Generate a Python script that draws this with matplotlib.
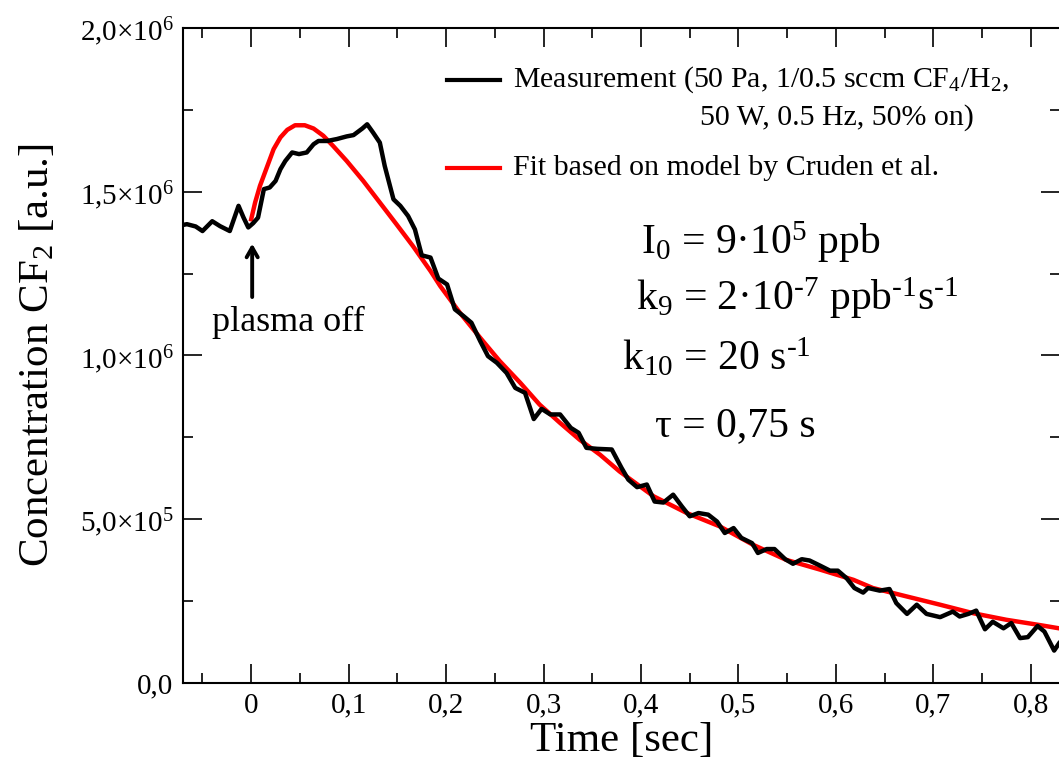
import matplotlib
matplotlib.use("Agg")
import matplotlib.pyplot as plt
from matplotlib.ticker import MultipleLocator, FuncFormatter

plt.rcParams['font.family'] = ['Liberation Serif', 'DejaVu Serif']
plt.rcParams['mathtext.fontset'] = 'custom'
plt.rcParams['mathtext.rm'] = 'Liberation Serif'
plt.rcParams['mathtext.it'] = 'Liberation Serif:italic'

# measurement (time in s, concentration in 1e6 a.u.)
t_meas = [-0.071, -0.066, -0.057, -0.050, -0.040, -0.032, -0.022, -0.013, -0.008, -0.003,
          0.002, 0.007, 0.013, 0.019, 0.025, 0.030, 0.035, 0.042, 0.049, 0.057,
          0.064, 0.069, 0.078, 0.088, 0.098, 0.105, 0.114, 0.119, 0.125, 0.132,
          0.137, 0.146, 0.153, 0.161, 0.168, 0.175, 0.184, 0.192, 0.201, 0.209,
          0.218, 0.226, 0.235, 0.243, 0.252, 0.262, 0.271, 0.281, 0.290, 0.298,
          0.307, 0.317, 0.328, 0.336, 0.344, 0.355, 0.370, 0.380, 0.387, 0.396,
          0.406, 0.414, 0.423, 0.433, 0.442, 0.450, 0.459, 0.469, 0.478, 0.486,
          0.495, 0.503, 0.514, 0.520, 0.529, 0.537, 0.548, 0.556, 0.565, 0.573,
          0.584, 0.594, 0.602, 0.611, 0.619, 0.628, 0.633, 0.645, 0.655, 0.662,
          0.673, 0.683, 0.693, 0.707, 0.720, 0.727, 0.736, 0.744, 0.753, 0.761,
          0.772, 0.780, 0.789, 0.797, 0.807, 0.814, 0.824, 0.829]
c_meas = [1.398, 1.401, 1.394, 1.380, 1.410, 1.395, 1.380, 1.457, 1.422, 1.391,
          1.404, 1.421, 1.508, 1.513, 1.533, 1.569, 1.594, 1.620, 1.615, 1.620,
          1.645, 1.655, 1.655, 1.661, 1.669, 1.673, 1.693, 1.706, 1.681, 1.650,
          1.579, 1.477, 1.457, 1.426, 1.385, 1.306, 1.299, 1.235, 1.217, 1.141,
          1.120, 1.100, 1.044, 0.998, 0.978, 0.947, 0.901, 0.886, 0.806, 0.837,
          0.820, 0.820, 0.779, 0.764, 0.718, 0.715, 0.713, 0.657, 0.621, 0.598,
          0.606, 0.554, 0.551, 0.575, 0.539, 0.509, 0.519, 0.514, 0.493, 0.458,
          0.473, 0.443, 0.427, 0.397, 0.409, 0.409, 0.378, 0.364, 0.378, 0.374,
          0.358, 0.343, 0.343, 0.320, 0.290, 0.276, 0.290, 0.282, 0.287, 0.244,
          0.211, 0.239, 0.211, 0.201, 0.218, 0.203, 0.211, 0.221, 0.164, 0.187,
          0.167, 0.183, 0.137, 0.140, 0.174, 0.157, 0.099, 0.121]

# fit (Cruden et al. model)
t_fit = [0.000, 0.004, 0.009, 0.016, 0.023, 0.030, 0.037, 0.045, 0.055, 0.064,
         0.074, 0.084, 0.098, 0.115, 0.132, 0.149, 0.166, 0.184, 0.194, 0.214,
         0.235, 0.255, 0.276, 0.296, 0.317, 0.337, 0.358, 0.378, 0.413, 0.447,
         0.481, 0.515, 0.549, 0.584, 0.618, 0.638, 0.673, 0.707, 0.741, 0.775,
         0.809, 0.829]
c_fit = [1.416, 1.467, 1.518, 1.574, 1.630, 1.666, 1.689, 1.703, 1.703, 1.693,
         1.671, 1.640, 1.594, 1.533, 1.467, 1.401, 1.334, 1.258, 1.212, 1.131,
         1.054, 0.983, 0.917, 0.850, 0.794, 0.743, 0.697, 0.646, 0.570, 0.519,
         0.478, 0.422, 0.376, 0.346, 0.315, 0.290, 0.264, 0.239, 0.213, 0.193,
         0.177, 0.167]

y_tick_labels = {0.0: "0,0", 0.5: "5,0×10$^{5}$", 1.0: "1,0×10$^{6}$",
                 1.5: "1,5×10$^{6}$", 2.0: "2,0×10$^{6}$"}

HY = "\u2010"  # plain hyphen in the exponents, as in the original

fig = plt.figure(figsize=(10.59, 7.65), dpi=100)
ax = fig.add_axes([0.1728, 0.1072, 0.8286, 0.8562])

ax.plot(t_meas, c_meas, color='black', lw=3.2, zorder=3)
ax.plot(t_fit, c_fit, color='#ff0000', lw=3.2, zorder=2)

ax.set_xlim(-0.07, 0.8305)
ax.set_ylim(0, 2.0)

ax.xaxis.set_major_locator(MultipleLocator(0.1))
ax.xaxis.set_minor_locator(MultipleLocator(0.05))
ax.yaxis.set_major_locator(MultipleLocator(0.5))
ax.yaxis.set_minor_locator(MultipleLocator(0.25))
ax.xaxis.set_major_formatter(FuncFormatter(
    lambda v, p: "0" if abs(v) < 1e-9 else f"{v:.1f}".replace(".", ",")))
ax.yaxis.set_major_formatter(FuncFormatter(
    lambda v, p: y_tick_labels.get(round(v, 2), "")))

ax.tick_params(which='both', direction='in', top=True, right=True,
               labelsize=21, width=1.2, pad=7)
ax.tick_params(which='major', length=14)
ax.tick_params(which='minor', length=7.5)
for s in ax.spines.values():
    s.set_linewidth(1.5)

ax.set_xlabel("Time [sec]", fontsize=31, labelpad=2)
ax.set_ylabel("Concentration CF$_2$ [a.u.]", fontsize=31, labelpad=16)

# legend drawn by hand
ax.plot([0.301, 0.361], [0.921, 0.921], transform=ax.transAxes, color='black', lw=3.0)
ax.text(0.376, 0.921, "Measurement (50 Pa, 1/0.5 sccm CF$_4$/H$_2$,",
        transform=ax.transAxes, fontsize=21.5, va='center')
ax.text(0.589, 0.863, "50 W, 0.5 Hz, 50% on)",
        transform=ax.transAxes, fontsize=21.5, va='center')
ax.plot([0.301, 0.361], [0.786, 0.786], transform=ax.transAxes, color='#ff0000', lw=3.0)
ax.text(0.376, 0.786, "Fit based on model by Cruden et al.",
        transform=ax.transAxes, fontsize=21.5, va='center')

# parameters
ax.text(0.400, 1.31, "I$_0$ = 9·10$^{5}$ ppb", fontsize=30, va='baseline')
ax.text(0.395, 1.14, "k$_9$ = 2·10$^{" + HY + "7}$ ppb$^{" + HY + "1}$s$^{" + HY + "1}$",
        fontsize=30, va='baseline')
ax.text(0.381, 0.955, "k$_{10}$ = 20 s$^{" + HY + "1}$", fontsize=30, va='baseline')
ax.text(0.414, 0.755, "τ = 0,75 s", fontsize=30, va='baseline')

# plasma off marker
ax.annotate("", xy=(0.001, 1.35), xytext=(0.001, 1.17),
            arrowprops=dict(arrowstyle='->,head_length=0.7,head_width=0.4',
                            color='black', lw=2.8))
ax.text(0.038, 1.075, "plasma off", fontsize=26, ha='center', va='baseline')

fig.savefig("out.png", dpi=100)
